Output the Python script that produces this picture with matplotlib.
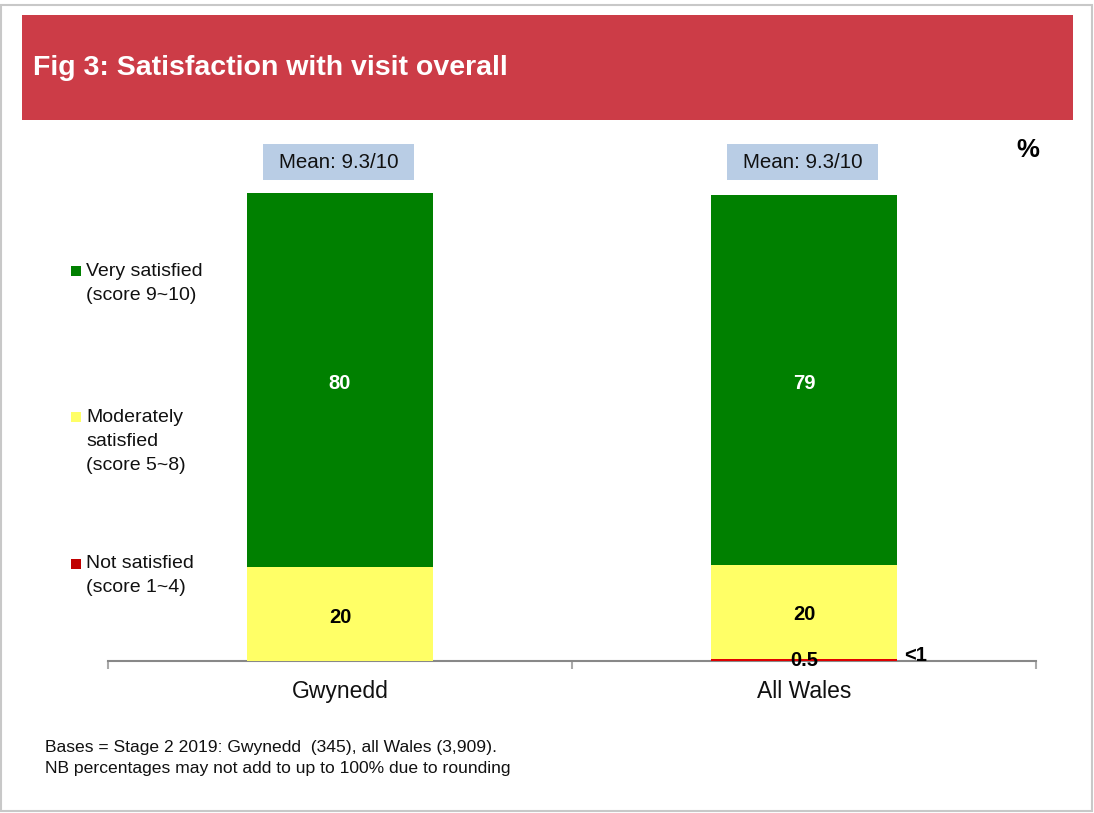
import matplotlib.pyplot as plt
from matplotlib.patches import Rectangle

plt.rcParams['font.family'] = ['Liberation Sans', 'DejaVu Sans']

areas = ["Gwynedd", "All Wales"]
not_satisfied = [0, 0.5]
moderately = [20, 20]
very = [80, 79]
means = ["Mean: 9.3/10", "Mean: 9.3/10"]

green = "#008000"
yellow = "#FFFF66"
red = "#E00000"

W, H = 1094, 813
fig = plt.figure(figsize=(W / 100, H / 100), dpi=100)

# outer frame and title banner
fig.patches.append(Rectangle((1 / W, 2 / H), 1091 / W, 806 / H, transform=fig.transFigure,
                             fill=False, edgecolor="#C8C8C8", linewidth=1.5))
fig.patches.append(Rectangle((22 / W, (H - 120) / H), 1051 / W, 105 / H, transform=fig.transFigure,
                             facecolor="#CC3C47", edgecolor="none"))
fig.text(33 / W, (H - 68) / H, "Fig 3: Satisfaction with visit overall", color="white",
         fontsize=20.5, fontweight="bold", va="center", ha="left")

ax = fig.add_axes([108 / W, (H - 661) / H, (1036 - 108) / W, (661 - 193) / H])
x = [0, 1]
width = 0.4
ax.bar(x, not_satisfied, width, color=red, zorder=3)
ax.bar(x, moderately, width, bottom=not_satisfied, color=yellow, zorder=3)
bottoms = [a + b for a, b in zip(not_satisfied, moderately)]
ax.bar(x, very, width, bottom=bottoms, color=green, zorder=3)

ax.set_xlim(-0.5, 1.5)
ax.set_ylim(0, 100)
for s in ["left", "right", "top"]:
    ax.spines[s].set_visible(False)
ax.spines["bottom"].set_color("#888888")
ax.spines["bottom"].set_linewidth(1.5)
ax.spines["bottom"].set_zorder(2)
ax.set_yticks([])
ax.set_xticks([-0.5, 0.5, 1.5])
ax.set_xticklabels([])
ax.tick_params(axis="x", length=6, width=1.5, color="#AAAAAA", direction="out")
for xi, name in zip(x, areas):
    ax.annotate(name, (xi, 0), xytext=(0, -22), textcoords="offset points",
                ha="center", va="center", fontsize=16.5, color="#111111",
                annotation_clip=False)

# value labels
for xi, b, v in zip(x, bottoms, very):
    ax.text(xi, b + v / 2 - 0.6, f"{v}", ha="center", va="center", color="white",
            fontsize=14.5, fontweight="bold", zorder=4)
for xi, b, v in zip(x, not_satisfied, moderately):
    ax.text(xi, b + v / 2 - 0.6, f"{v}", ha="center", va="center", color="black",
            fontsize=14.5, fontweight="bold", zorder=4)
ax.text(1, not_satisfied[1] - 0.4, f"{not_satisfied[1]}", ha="center", va="center",
        color="black", fontsize=14.5, fontweight="bold", zorder=4)
ax.text(1 + width / 2 + 0.015, not_satisfied[1] + 0.6, "<1", ha="left", va="center",
        color="black", fontsize=14.5, fontweight="bold", zorder=4)

# mean boxes above bars
box_w, box_h, box_y = 0.324, 7.7, 106.6
for xi, m in zip(x, means):
    ax.add_patch(Rectangle((xi - 0.003 - box_w / 2, box_y - box_h / 2), box_w, box_h,
                           facecolor="#B9CDE5", edgecolor="none", clip_on=False))
    ax.text(xi - 0.003, box_y, m, ha="center", va="center", fontsize=14.8,
            color="#111111", clip_on=False)

fig.text(1028 / W, (H - 150) / H, "%", ha="center", va="center", fontsize=18.5,
         fontweight="bold")

# legend down the left side
legend = [(green, ["Very satisfied", "(score 9~10)"], 271),
          (yellow, ["Moderately", "satisfied", "(score 5~8)"], 417),
          ("#C00000", ["Not satisfied", "(score 1~4)"], 564)]
for col, lines, y0 in legend:
    fig.patches.append(Rectangle((71 / W, (H - y0 - 5) / H), 10 / W, 10 / H,
                                 transform=fig.transFigure, facecolor=col, edgecolor="none"))
    for i, line in enumerate(lines):
        fig.text(86 / W, (H - y0 - i * 24) / H, line, ha="left", va="center",
                 fontsize=14, color="#111111")

fig.text(45 / W, (H - 747) / H, "Bases = Stage 2 2019: Gwynedd  (345), all Wales (3,909).",
         ha="left", va="center", fontsize=12.6, color="#111111")
fig.text(45 / W, (H - 768) / H, "NB percentages may not add to up to 100% due to rounding",
         ha="left", va="center", fontsize=12.6, color="#111111")

fig.savefig("out.png", dpi=100)
